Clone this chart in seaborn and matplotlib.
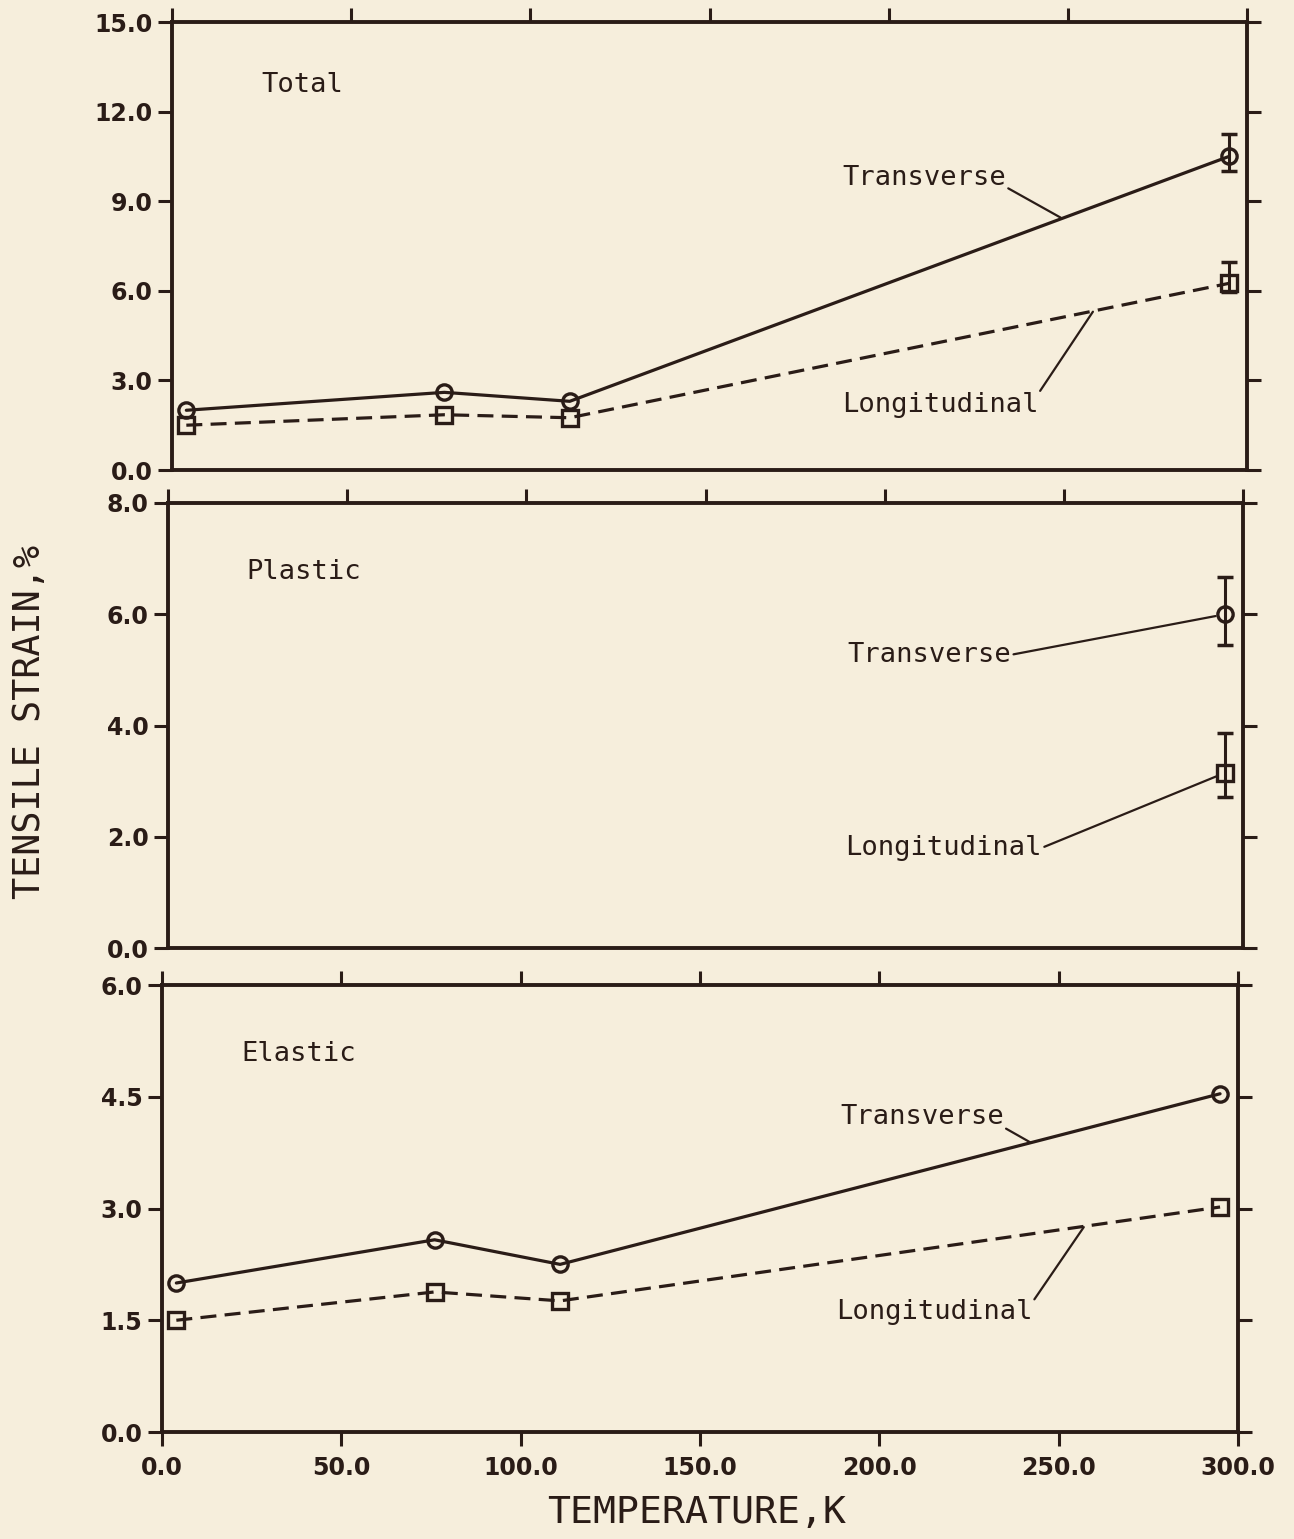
import numpy as np
import pandas as pd
import matplotlib
matplotlib.use("Agg")
import matplotlib.pyplot as plt
import seaborn as sns

# test temperatures, K
temps = [4, 76, 111, 295]
rt_temp = [295]

# total strain, %
total_trans = [2.0, 2.6, 2.3, 10.5]
total_long = [1.5, 1.85, 1.75, 6.25]
# scatter at room temperature (below, above)
total_trans_err = [0.5, 0.75]
total_long_err = [0.3, 0.7]

# plastic strain, % (room temperature only)
plastic_trans = [6.0]
plastic_long = [3.15]
plastic_trans_err = [0.55, 0.67]
plastic_long_err = [0.43, 0.72]

# elastic strain, %
elastic_trans = [2.0, 2.58, 2.25, 4.54]
elastic_long = [1.5, 1.88, 1.76, 3.02]

xticks = [0, 50, 100, 150, 200, 250, 300]

ink = "#2a1c17"
paper = "#f6eedc"
mono = "DejaVu Sans Mono"

sns.set_theme(style="ticks")
plt.rcParams["font.family"] = ["DejaVu Sans"]


def long_table(x, trans, longi):
    return pd.DataFrame({
        "temp": list(x) + list(x),
        "strain": list(trans) + list(longi),
        "orient": ["Transverse"] * len(trans) + ["Longitudinal"] * len(longi),
    })


panels = [
    # name, table, errs, ylim, yticks, axes rect, title pos, annotations
    dict(name="Total", df=long_table(temps, total_trans, total_long),
         errs=[(295, total_trans[-1], total_trans_err), (295, total_long[-1], total_long_err)],
         ylim=15, yticks=[0, 3, 6, 9, 12, 15],
         rect=[172, 22, 1247, 470], title=(25, 12.9),
         ann=[("Transverse", (187, 9.78), (248, 8.45), (1, 0.15), 0),
              ("Longitudinal", (187, 2.18), (257, 5.3), (1, 0.95), 0)]),
    dict(name="Plastic", df=long_table(rt_temp, plastic_trans, plastic_long),
         errs=[(295, plastic_trans[0], plastic_trans_err), (295, plastic_long[0], plastic_long_err)],
         ylim=8, yticks=[0, 2, 4, 6, 8],
         rect=[168, 503, 1243, 948], title=(22, 6.76),
         ann=[("Transverse", (189.5, 5.27), (295, 6.0), (1, 0.5), 7),
              ("Longitudinal", (189, 1.80), (295, 3.15), (1, 0.5), 7)]),
    dict(name="Elastic", df=long_table(temps, elastic_trans, elastic_long),
         errs=[],
         ylim=6, yticks=[0, 1.5, 3, 4.5, 6],
         rect=[162, 985, 1238, 1432], title=(22, 5.07),
         ann=[("Transverse", (189, 4.23), (242, 3.89), (1, 0.1), 0),
              ("Longitudinal", (188, 1.61), (257, 2.75), (1, 0.9), 0)]),
]

W, H = 1294, 1539
fig = plt.figure(figsize=(W / 100, H / 100), dpi=100)
fig.patch.set_facecolor(paper)

for i, p in enumerate(panels):
    x0, y0, x1, y1 = p["rect"]
    ax = fig.add_axes([x0 / W, 1 - y1 / H, (x1 - x0) / W, (y1 - y0) / H])
    ax.set_facecolor(paper)

    sns.lineplot(data=p["df"], x="temp", y="strain", style="orient",
                 markers={"Transverse": "o", "Longitudinal": "s"},
                 dashes={"Transverse": "", "Longitudinal": (5, 2.6)},
                 color=ink, linewidth=2.3, markersize=11,
                 markerfacecolor="none", markeredgecolor=ink,
                 markeredgewidth=2.4, legend=False, ax=ax)

    for ex, ey, (lo, hi) in p["errs"]:
        ax.errorbar([ex], [ey], yerr=[[lo], [hi]], fmt="none", ecolor=ink,
                    elinewidth=2.2, capsize=6, capthick=2.5)

    ax.set_xlim(0, 300)
    ax.set_ylim(0, p["ylim"])
    ax.set_xticks(xticks)
    ax.set_xticklabels([f"{v:.1f}" for v in xticks])
    ax.set_yticks(p["yticks"])
    ax.set_yticklabels([f"{v:.1f}" for v in p["yticks"]])
    ax.set_xlabel("")
    ax.set_ylabel("")

    for s in ax.spines.values():
        s.set_visible(True)
        s.set_linewidth(2.8)
        s.set_color(ink)

    last = i == len(panels) - 1
    ax.tick_params(axis="both", direction="out", length=10, width=2.2,
                   color=ink, labelcolor=ink, labelsize=17,
                   top=True, right=True, bottom=last,
                   labelbottom=last, labeltop=False, labelright=False)
    ax.tick_params(axis="y", pad=4)
    ax.tick_params(axis="x", pad=7)
    for lab in ax.get_xticklabels() + ax.get_yticklabels():
        lab.set_fontweight("bold")

    ax.text(p["title"][0], p["title"][1], p["name"], family=mono,
            fontsize=19.5, color=ink, ha="left", va="center")

    for label, txy, target, rel, shrink in p["ann"]:
        ax.annotate(label, xy=target, xytext=txy, family=mono, fontsize=19.5,
                    color=ink, ha="left", va="center",
                    arrowprops=dict(arrowstyle="-", color=ink, lw=1.6,
                                    relpos=rel, patchA=None,
                                    shrinkA=2, shrinkB=shrink))

fig.text(30 / W, 1 - 722 / H, "TENSILE STRAIN,%", rotation=90, family=mono,
         fontsize=26.5, color=ink, ha="center", va="center")
fig.text(697 / W, 1 - 1513 / H, "TEMPERATURE,K", family=mono,
         fontsize=27.5, color=ink, ha="center", va="center")

fig.savefig("out.png", dpi=100, facecolor=paper)
